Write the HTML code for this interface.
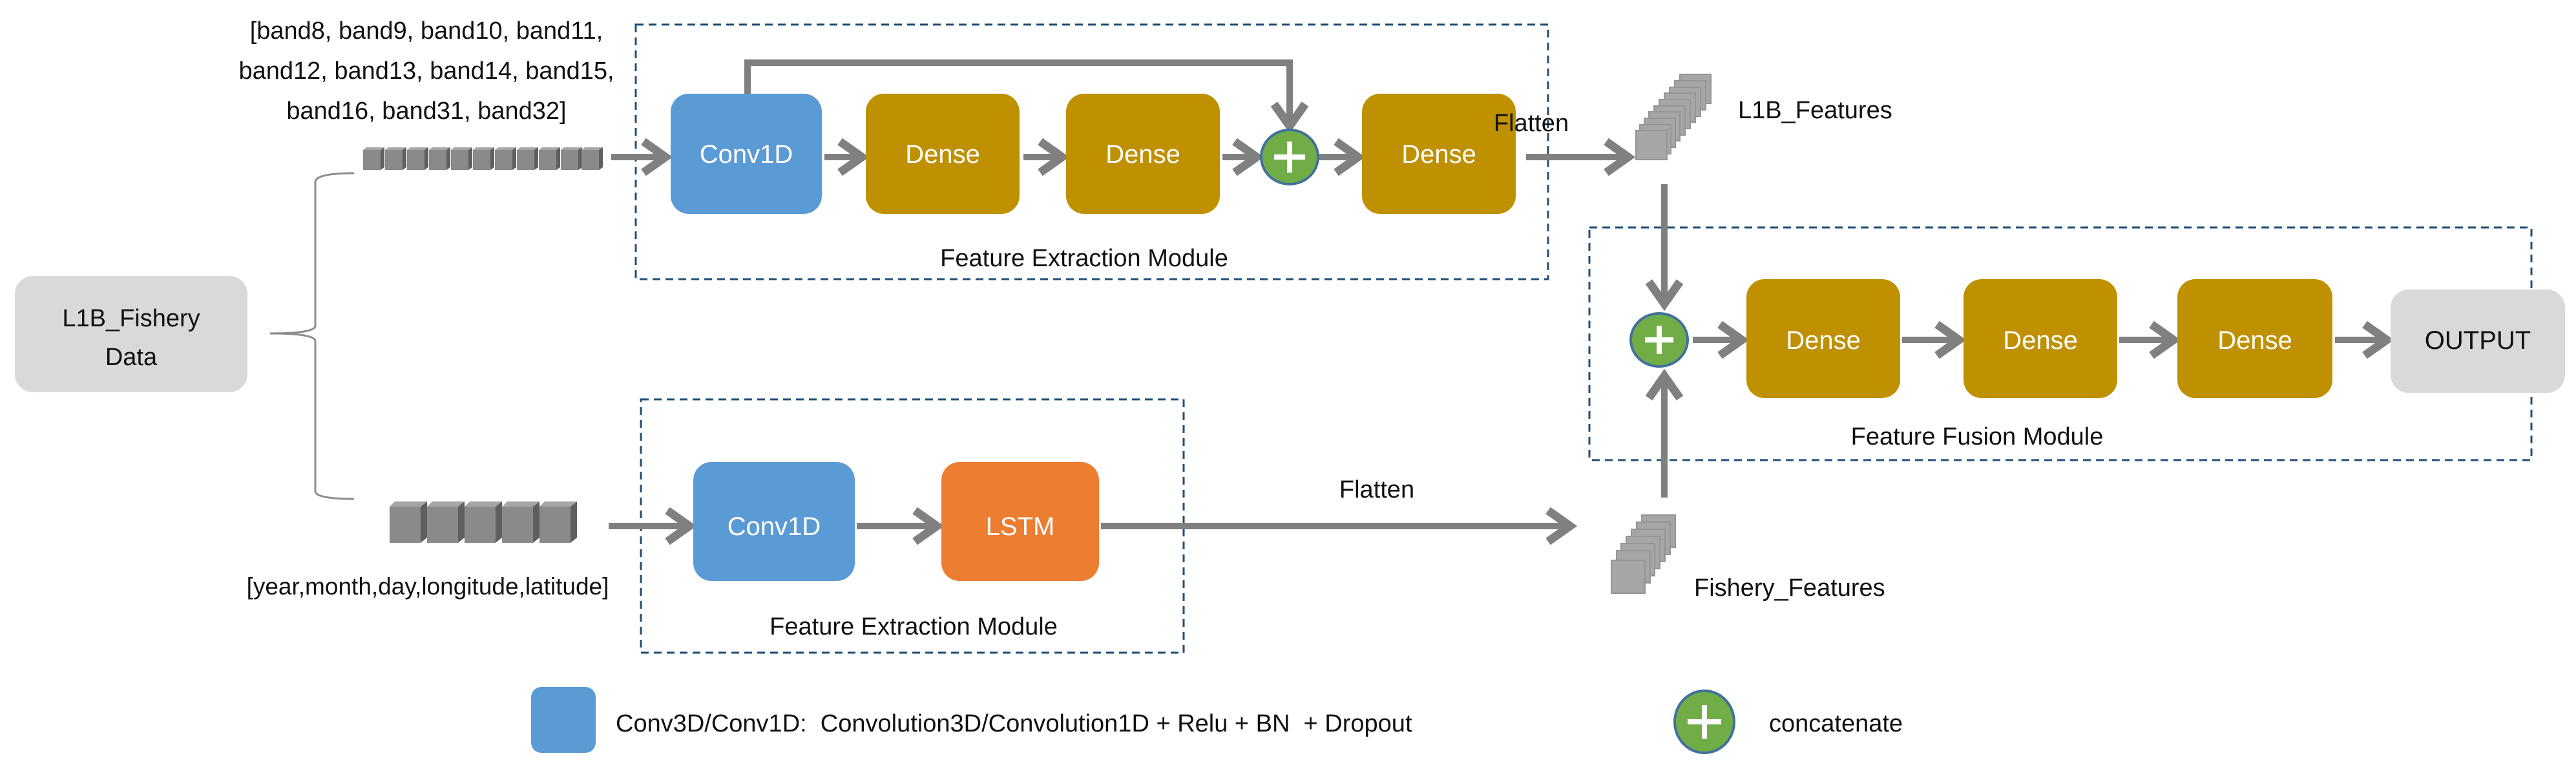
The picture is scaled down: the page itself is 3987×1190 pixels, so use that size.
<!DOCTYPE html>
<html><head><meta charset="utf-8"><style>
html,body{margin:0;padding:0;background:#fff;}
svg{display:block;}
text{font-family:"Liberation Sans",sans-serif;}
</style></head><body>
<svg width="3987" height="1190" viewBox="0 0 3987 1190" xmlns="http://www.w3.org/2000/svg">
<defs>
<marker id="ah" markerWidth="6" markerHeight="6" refX="4.2" refY="3" orient="auto" markerUnits="strokeWidth">
<path d="M0.8,0.6 L4.2,3 L0.8,5.4" fill="none" stroke="#808080" stroke-width="1.3"/>
</marker>
<g id="cube"><rect x="0" y="4" width="27" height="31" fill="#8a8a8a"/><polygon points="0,4 5,0 33,0 27,4" fill="#a6a6a6"/><polygon points="27,4 33,0 33,31 27,35" fill="#5f5f5f"/></g>
<g id="bcube"><rect x="0" y="8" width="48" height="56" fill="#8a8a8a"/><polygon points="0,8 8,0 58,0 48,8" fill="#a6a6a6"/><polygon points="48,8 58,0 58,56 48,64" fill="#5f5f5f"/></g>
</defs>

<g fill="none" stroke="#1f4e79" stroke-width="3" stroke-dasharray="12,8">
<rect x="984" y="38" width="1412" height="394"/>
<rect x="992" y="618" width="840" height="392"/>
<rect x="2460" y="352" width="1458" height="360"/>
</g>

<rect x="23" y="427" width="360" height="180" rx="28" fill="#d9d9d9"/>
<text x="203" y="505" font-size="38" text-anchor="middle" fill="#111">L1B_Fishery</text>
<text x="203" y="565" font-size="38" text-anchor="middle" fill="#111">Data</text>

<path d="M548,268 Q488,268 488,282 L488,504 Q488,516 418,516 Q488,516 488,528 L488,760 Q488,772 548,772" fill="none" stroke="#8c8c8c" stroke-width="3"/>

<g font-size="38" text-anchor="middle" fill="#111">
<text x="660" y="60">[band8, band9, band10, band11,</text>
<text x="660" y="122">band12, band13, band14, band15,</text>
<text x="660" y="184">band16, band31, band32]</text>
<text x="662" y="920" font-size="37">[year,month,day,longitude,latitude]</text>
</g>

<g>
<use href="#cube" x="562" y="228"/><use href="#cube" x="596" y="228"/><use href="#cube" x="630" y="228"/><use href="#cube" x="664" y="228"/><use href="#cube" x="698" y="228"/><use href="#cube" x="732" y="228"/><use href="#cube" x="766" y="228"/><use href="#cube" x="800" y="228"/><use href="#cube" x="834" y="228"/><use href="#cube" x="868" y="228"/><use href="#cube" x="900" y="228"/>
</g>
<g>
<use href="#bcube" x="603" y="776"/><use href="#bcube" x="661" y="776"/><use href="#bcube" x="719" y="776"/><use href="#bcube" x="777" y="776"/><use href="#bcube" x="835" y="776"/>
</g>

<g stroke="#808080" stroke-width="10" fill="none" marker-end="url(#ah)">
<line x1="946" y1="243" x2="1030" y2="243"/>
<line x1="1276" y1="243" x2="1334" y2="243"/>
<line x1="1584" y1="243" x2="1644" y2="243"/>
<line x1="1892" y1="243" x2="1945" y2="243"/>
<line x1="2042" y1="243" x2="2102" y2="243"/>
<line x1="2362" y1="243" x2="2520" y2="243"/>
<polyline points="1157,145 1157,97 1996,97 1996,195"/>
<line x1="2576" y1="285" x2="2576" y2="470"/>
<line x1="2576" y1="770" x2="2576" y2="582"/>
<line x1="2620" y1="526" x2="2696" y2="526"/>
<line x1="2944" y1="526" x2="3032" y2="526"/>
<line x1="3280" y1="526" x2="3364" y2="526"/>
<line x1="3614" y1="526" x2="3694" y2="526"/>
<line x1="942" y1="814" x2="1067" y2="814"/>
<line x1="1326" y1="814" x2="1450" y2="814"/>
<line x1="1704" y1="814" x2="2430" y2="814"/>
</g>

<rect x="1038" y="145" width="234" height="186" rx="28" fill="#5b9bd5"/>
<rect x="1340" y="145" width="238" height="186" rx="28" fill="#bf9000"/>
<rect x="1650" y="145" width="238" height="186" rx="28" fill="#bf9000"/>
<rect x="2108" y="145" width="238" height="186" rx="28" fill="#bf9000"/>
<g font-size="40" fill="#fff" text-anchor="middle">
<text x="1155" y="252">Conv1D</text>
<text x="1459" y="252">Dense</text>
<text x="1769" y="252">Dense</text>
<text x="2227" y="252">Dense</text>
</g>
<ellipse cx="1996" cy="243" rx="44" ry="42" fill="#70ad47" stroke="#41719c" stroke-width="4"/>
<path d="M1996,219 V267 M1972,243 H2020" stroke="#fff" stroke-width="8"/>
<text x="1678" y="412" font-size="38" text-anchor="middle" fill="#111">Feature Extraction Module</text>

<rect x="1073" y="715" width="250" height="184" rx="28" fill="#5b9bd5"/>
<rect x="1457" y="715" width="244" height="184" rx="28" fill="#ed7d31"/>
<g font-size="40" fill="#fff" text-anchor="middle">
<text x="1198" y="828">Conv1D</text>
<text x="1579" y="828">LSTM</text>
</g>
<text x="1414" y="982" font-size="38" text-anchor="middle" fill="#111">Feature Extraction Module</text>
<text x="2131" y="770" font-size="38" text-anchor="middle" fill="#111">Flatten</text>
<text x="2370" y="203" font-size="38" text-anchor="middle" fill="#111">Flatten</text>

<g fill="#a6a6a6" stroke="#959595" stroke-width="2">
<rect x="2600" y="115" width="48" height="45"/><rect x="2592" y="125" width="48" height="45"/><rect x="2584" y="135" width="48" height="45"/><rect x="2576" y="144" width="48" height="45"/><rect x="2568" y="154" width="48" height="45"/><rect x="2560" y="164" width="48" height="45"/><rect x="2552" y="173" width="48" height="45"/><rect x="2545" y="183" width="48" height="45"/><rect x="2538" y="193" width="48" height="45"/>
<rect x="2532" y="202" width="48" height="45"/>
</g>
<text x="2690" y="183" font-size="38" fill="#111">L1B_Features</text>

<g fill="#a6a6a6" stroke="#959595" stroke-width="2">
<rect x="2541" y="797" width="52" height="50"/><rect x="2533" y="808" width="52" height="50"/><rect x="2525" y="819" width="52" height="50"/><rect x="2517" y="830" width="52" height="50"/><rect x="2509" y="841" width="52" height="50"/><rect x="2502" y="852" width="52" height="50"/><rect x="2494" y="867" width="52" height="51"/>
</g>
<text x="2622" y="922" font-size="38" fill="#111">Fishery_Features</text>

<ellipse cx="2568" cy="526" rx="44" ry="41" fill="#70ad47" stroke="#41719c" stroke-width="4"/>
<path d="M2568,504 V548 M2546,526 H2590" stroke="#fff" stroke-width="8"/>
<rect x="2703" y="432" width="238" height="184" rx="28" fill="#bf9000"/>
<rect x="3039" y="432" width="238" height="184" rx="28" fill="#bf9000"/>
<rect x="3370" y="432" width="240" height="184" rx="28" fill="#bf9000"/>
<g font-size="40" fill="#fff" text-anchor="middle">
<text x="2822" y="540">Dense</text>
<text x="3158" y="540">Dense</text>
<text x="3490" y="540">Dense</text>
</g>
<rect x="3700" y="448" width="270" height="160" rx="28" fill="#d9d9d9"/>
<text x="3835" y="540" font-size="40" text-anchor="middle" fill="#111">OUTPUT</text>
<text x="3060" y="688" font-size="38" text-anchor="middle" fill="#111">Feature Fusion Module</text>

<rect x="822" y="1063" width="100" height="102" rx="16" fill="#5b9bd5"/>
<text x="953" y="1132" font-size="38" fill="#111" xml:space="preserve">Conv3D/Conv1D:  Convolution3D/Convolution1D + Relu + BN  + Dropout</text>
<ellipse cx="2638" cy="1117" rx="46" ry="48" fill="#70ad47" stroke="#41719c" stroke-width="4"/>
<path d="M2638,1091 V1143 M2612,1117 H2664" stroke="#fff" stroke-width="8"/>
<text x="2738" y="1132" font-size="38" fill="#111">concatenate</text>
</svg>
</body></html>
